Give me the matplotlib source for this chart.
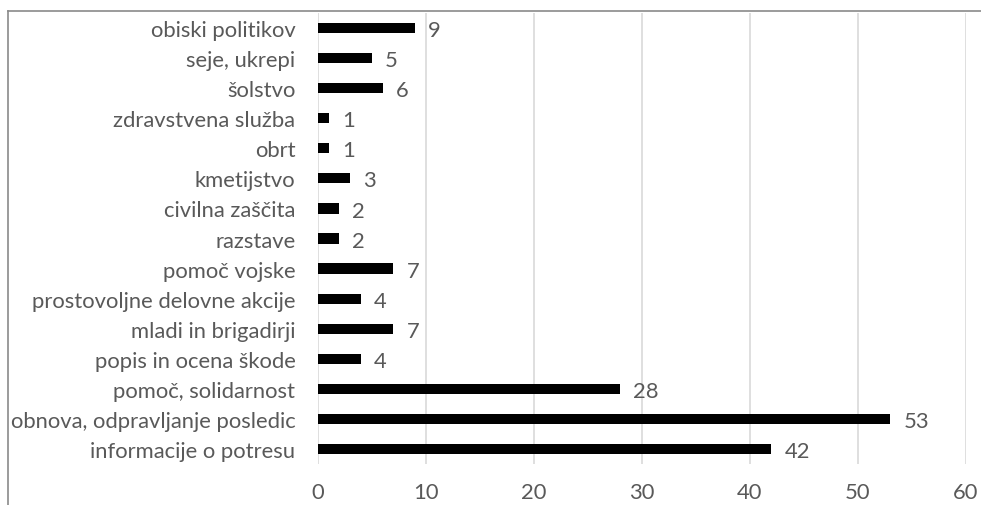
import matplotlib
matplotlib.use("Agg")
import matplotlib.pyplot as plt
from matplotlib.lines import Line2D

categories = [
    "informacije o potresu",
    "obnova, odpravljanje posledic",
    "pomoč, solidarnost",
    "popis in ocena škode",
    "mladi in brigadirji",
    "prostovoljne delovne akcije",
    "pomoč vojske",
    "razstave",
    "civilna zaščita",
    "kmetijstvo",
    "obrt",
    "zdravstvena služba",
    "šolstvo",
    "seje, ukrepi",
    "obiski politikov",
]
values = [42, 53, 28, 4, 7, 4, 7, 2, 2, 3, 1, 1, 6, 5, 9]
xticks = [0, 10, 20, 30, 40, 50, 60]

plt.rcParams['font.family'] = ['Lato', 'DejaVu Sans']
text_color = "#595959"
fs = 15.8

fig = plt.figure(figsize=(9.81, 5.06), dpi=100)
ax = fig.add_axes([317.7/981, 1-465/506, (965.7-317.7)/981, (465-14)/506])

y = list(range(len(categories)))
ax.barh(y, values, height=0.34, color="black", zorder=3)
for yi, v in zip(y, values):
    ax.annotate(str(v), (v, yi), xytext=(9.5, -1.5), textcoords="offset points",
                va="center", ha="left", fontsize=fs, color=text_color)

ax.set_xlim(0, 60)
ax.set_ylim(-0.5, len(categories) - 0.5)
ax.set_yticks(y)
ax.set_yticklabels(categories, fontsize=fs, color=text_color)
ax.set_xticks(xticks)
ax.set_xticklabels([str(t) for t in xticks], fontsize=fs, color=text_color)
ax.tick_params(axis="both", length=0)
ax.tick_params(axis="y", pad=16)
ax.tick_params(axis="x", pad=13)
ax.grid(axis="x", color="#d9d9d9", linewidth=1.2, zorder=0)
for s in ax.spines.values():
    s.set_visible(False)

fig.add_artist(Line2D([8/981, 1], [1-12/506, 1-12/506], color="#8a8a8a", linewidth=1.2, transform=fig.transFigure))
fig.add_artist(Line2D([8/981, 8/981], [0, 1-12/506], color="#8a8a8a", linewidth=1.2, transform=fig.transFigure))

fig.savefig("out.png", dpi=100)
